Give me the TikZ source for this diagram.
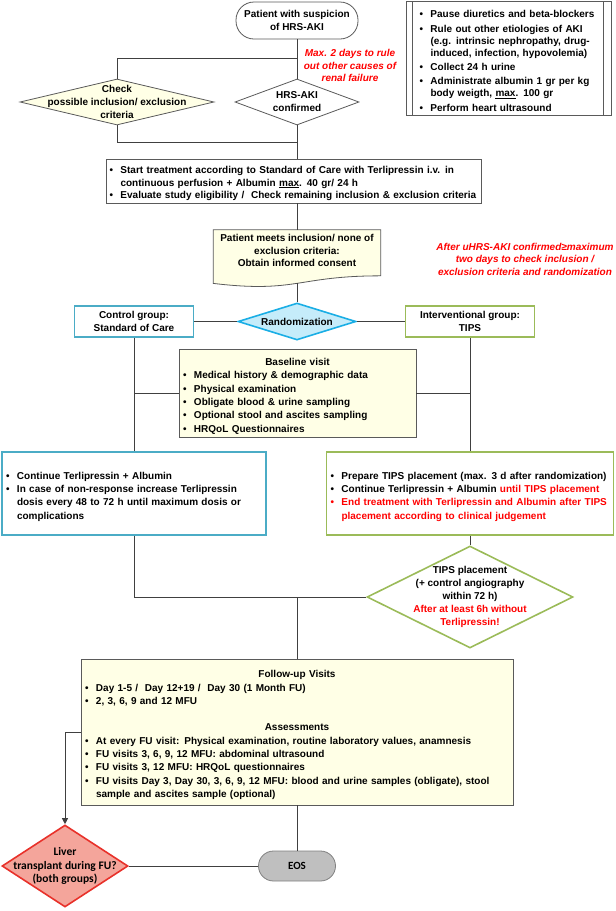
\documentclass[tikz,border=0pt]{standalone}
\usepackage{fontspec}
\setmainfont{Liberation Sans}
\newfontfamily\calibri{Carlito}
\usetikzlibrary{shapes.geometric,calc,arrows.meta}
\definecolor{lnc}{HTML}{404040}
\definecolor{bdc}{HTML}{5A5A5A}
\definecolor{pale}{HTML}{FFFFE6}
\definecolor{ctrlblue}{HTML}{4BACC6}
\definecolor{intgreen}{HTML}{9BBB59}
\definecolor{randb}{HTML}{1AAEE5}
\definecolor{randf}{HTML}{C5ECFA}
\definecolor{livf}{HTML}{F4A59B}
\definecolor{livb}{HTML}{E8312A}
\definecolor{eosf}{HTML}{BFBFBF}
\definecolor{eosb}{HTML}{808080}
\definecolor{redtxt}{HTML}{FF0000}
\newcommand{\bl}[1]{\par\noindent\hangindent=11pt\hangafter=1\makebox[11pt][l]{\textbullet}#1\par}
\newcommand{\rbl}[1]{\par\noindent\hangindent=11pt\hangafter=1{\color{redtxt}\makebox[11pt][l]{\textbullet}#1}\par}
\newcommand{\ctr}[1]{\par\noindent\makebox[\hsize][c]{#1}\par}
\newcommand{\igap}{\vspace{2.3pt}}
\begin{document}
\begin{tikzpicture}[x=1pt,y=-1pt,
  every node/.style={font=\fontsize{10}{13}\selectfont\bfseries, text=black},
  ln/.style={draw=lnc, line width=0.9pt},
  box/.style={draw=bdc, line width=0.8pt, fill=white, align=left, inner xsep=4pt, inner ysep=0pt},
  palebox/.style={box, fill=pale},
  dia/.style={shape=diamond, draw=bdc, line width=0.8pt, inner sep=0pt, fill=white},
  txt/.style={align=center, inner sep=0pt},
  redit/.style={align=center, inner sep=0pt, text=redtxt, font=\fontsize{10}{12.5}\selectfont\bfseries\itshape}]
\useasboundingbox (0,0) rectangle (616,911);

% top
\node[box, rounded corners=18pt, align=center, minimum width=122pt, minimum height=37pt] (start) at (297,20.5) {Patient with suspicion\\of HRS-AKI};
\node[box, minimum width=205pt, minimum height=114pt, text width=178pt, inner xsep=13.5pt, font=\fontsize{10}{12}\selectfont\bfseries] (prep) at (508.5,58.5) {%
\bl{Pause diuretics and beta-blockers}\igap
\bl{Rule out other etiologies of AKI\newline (e.g. intrinsic nephropathy, drug-\newline induced, infection, hypovolemia)}\igap
\bl{Collect 24 h urine}\igap
\bl{Administrate albumin 1 gr per kg\newline body weigth, \underline{max}. 100 gr}\igap
\bl{Perform heart ultrasound}};
\draw[draw=bdc, line width=0.8pt] ([xshift=7pt]prep.north west) -- ([xshift=7pt]prep.south west)
  ([xshift=-8pt]prep.north east) -- ([xshift=-8pt]prep.south east);
\node[redit] (maxtxt) at (350,65.5) {Max. 2 days to rule\\out other causes of\\renal failure};

\coordinate (j1) at (297,58);
\coordinate (j2) at (297,142);
\node[dia, fill=pale, minimum width=194pt, minimum height=46pt] (check) at (117,102) {};
\node[txt] (checkt) at (117,102) {Check\\possible inclusion/ exclusion\\criteria};
\node[dia, minimum width=124pt, minimum height=46pt] (hrs) at (297,102) {};
\node[txt] (hrst) at (297,102) {HRS-AKI\\confirmed};

\node[box, minimum width=375pt, minimum height=44pt, text width=368pt, inner xsep=3.5pt, font=\fontsize{10}{12.5}\selectfont\bfseries] (startb) at (293.5,181) {%
\bl{Start treatment according to Standard of Care with Terlipressin i.v. in\newline continuous perfusion + Albumin \underline{max}. 40 gr/ 24 h}%
\bl{Evaluate study eligibility /~ Check remaining inclusion \& exclusion criteria}};

% document
\node[minimum width=167pt, minimum height=57pt, inner sep=0pt] (doc) at (297,258.5) {};
\filldraw[fill=pale, draw=bdc, line width=0.8pt] (doc.north west) -- (doc.north east) -- ($(doc.north east)!0.802!(doc.south east)$)
  .. controls ($(doc.north)!0.802!(doc.south)$) and ($(doc.north)!1.107!(doc.south)$) .. ($(doc.north west)!0.934!(doc.south west)$) -- cycle;
\node[txt, font=\fontsize{10}{12.5}\selectfont\bfseries] (doct) at (297,250.5) {Patient meets inclusion/ none of\\exclusion criteria:\\Obtain informed consent};
\coordinate (docb) at ($(doc.north)!0.933!(doc.south)$);
\node[redit] (aftertxt) at (525,259) {After uHRS-AKI confirmed≥maximum\\two days to check inclusion /\\exclusion criteria and randomization};

% randomization
\node[dia, draw=randb, fill=randf, line width=1.6pt, minimum width=118pt, minimum height=37pt] (rand) at (297,321.5) {};
\node[txt] (randt) at (297,321.5) {Randomization};
\node[box, draw=ctrlblue, line width=1.6pt, align=center, minimum width=119pt, minimum height=31pt] (ctrl) at (134,321.5) {Control group:\\Standard of Care};
\node[box, draw=intgreen, line width=1.6pt, align=center, minimum width=129pt, minimum height=31pt] (intv) at (470,321.5) {Interventional group:\\TIPS};

\node[palebox, minimum width=237pt, minimum height=88pt, text width=229pt, font=\fontsize{10}{13.4}\selectfont\bfseries] (base) at (297.5,393) {%
\ctr{Baseline visit}%
\bl{Medical history \& demographic data}%
\bl{Physical examination}%
\bl{Obligate blood \& urine sampling}%
\bl{Optional stool and ascites sampling}%
\bl{HRQoL Questionnaires}};

\node[box, draw=ctrlblue, line width=1.6pt, minimum width=264pt, minimum height=83pt, text width=256pt, font=\fontsize{10}{13.3}\selectfont\bfseries] (ctrlbox) at (134,493.5) {%
\bl{Continue Terlipressin + Albumin}%
\bl{In case of non-response increase Terlipressin\newline dosis every 48 to 72 h until maximum dosis or\newline complications}};
\node[box, draw=intgreen, line width=1.6pt, minimum width=287pt, minimum height=83pt, text width=279pt, font=\fontsize{10}{13.3}\selectfont\bfseries] (intvbox) at (470,493.5) {%
\bl{Prepare TIPS placement (max. 3 d after randomization)}%
\bl{Continue Terlipressin + Albumin \textcolor{redtxt}{until TIPS placement}}%
\rbl{End treatment with Terlipressin and Albumin after TIPS\newline placement according to clinical judgement}};

\node[dia, draw=intgreen, line width=1.6pt, minimum width=206pt, minimum height=102pt] (tips) at (470,597) {};
\node[txt, font=\fontsize{10}{12.8}\selectfont\bfseries] (tipst) at (470,597) {TIPS placement\\(+ control angiography\\within 72 h)\\\textcolor{redtxt}{After at least 6h without}\\\textcolor{redtxt}{Terlipressin!}};

\node[palebox, minimum width=432pt, minimum height=146pt, text width=424pt, font=\fontsize{10}{13.3}\selectfont\bfseries] (fu) at (297,732) {%
\ctr{Follow-up Visits}%
\bl{Day 1-5 /~ Day 12+19 /~ Day 30 (1 Month FU)}%
\bl{2, 3, 6, 9 and 12 MFU}%
\par\noindent\mbox{}\par
\ctr{Assessments}%
\bl{At every FU visit: Physical examination, routine laboratory values, anamnesis}%
\bl{FU visits 3, 6, 9, 12 MFU: abdominal ultrasound}%
\bl{FU visits 3, 12 MFU: HRQoL questionnaires}%
\bl{FU visits Day 3, Day 30, 3, 6, 9, 12 MFU: blood and urine samples (obligate), stool\newline sample and ascites sample (optional)}};

\node[dia, draw=livb, fill=livf, line width=1.6pt, minimum width=126pt, minimum height=82pt] (liver) at (65,866) {};
\node[txt, font=\calibri\fontsize{11.5}{13.5}\selectfont\bfseries] (livert) at (65,866) {Liver\\transplant during FU?\\(both groups)};
\node[box, rounded corners=15pt, fill=eosf, draw=eosb, align=center, minimum width=77pt, minimum height=30pt, font=\calibri\fontsize{11}{13}\selectfont\bfseries] (eos) at (297,866) {EOS};

% connectors
\draw[ln] (start.south) -- (hrs.north);
\draw[ln] (j1) -| (check.north);
\draw[ln] (check.south) |- (j2);
\draw[ln] (hrs.south) -- (hrs.south |- startb.north);
\draw[ln] (doc.north |- startb.south) -- (doc.north);
\draw[ln] (docb) -- (rand.north);
\draw[ln] (ctrl.east) -- (rand.west);
\draw[ln] (rand.east) -- (intv.west);
\draw[ln] (ctrl.south) -- (ctrlbox.north);
\draw[ln] (intv.south) -- (intvbox.north);
\draw[ln] (base.west) -- (base.west -| ctrl.south);
\draw[ln] (base.east) -- (base.east -| intv.south);
\draw[ln] (intvbox.south) -- (tips.north);
\draw[ln] (ctrlbox.south) |- (tips.west);
\draw[ln] (fu.north |- tips.west) -- (fu.north);
\draw[ln] (fu.south) -- (eos.north);
\draw[ln, -{Triangle[length=6pt,width=6pt]}] (fu.west) -| (liver.north);
\draw[ln] (liver.east) -- (eos.west);
\end{tikzpicture}
\end{document}
